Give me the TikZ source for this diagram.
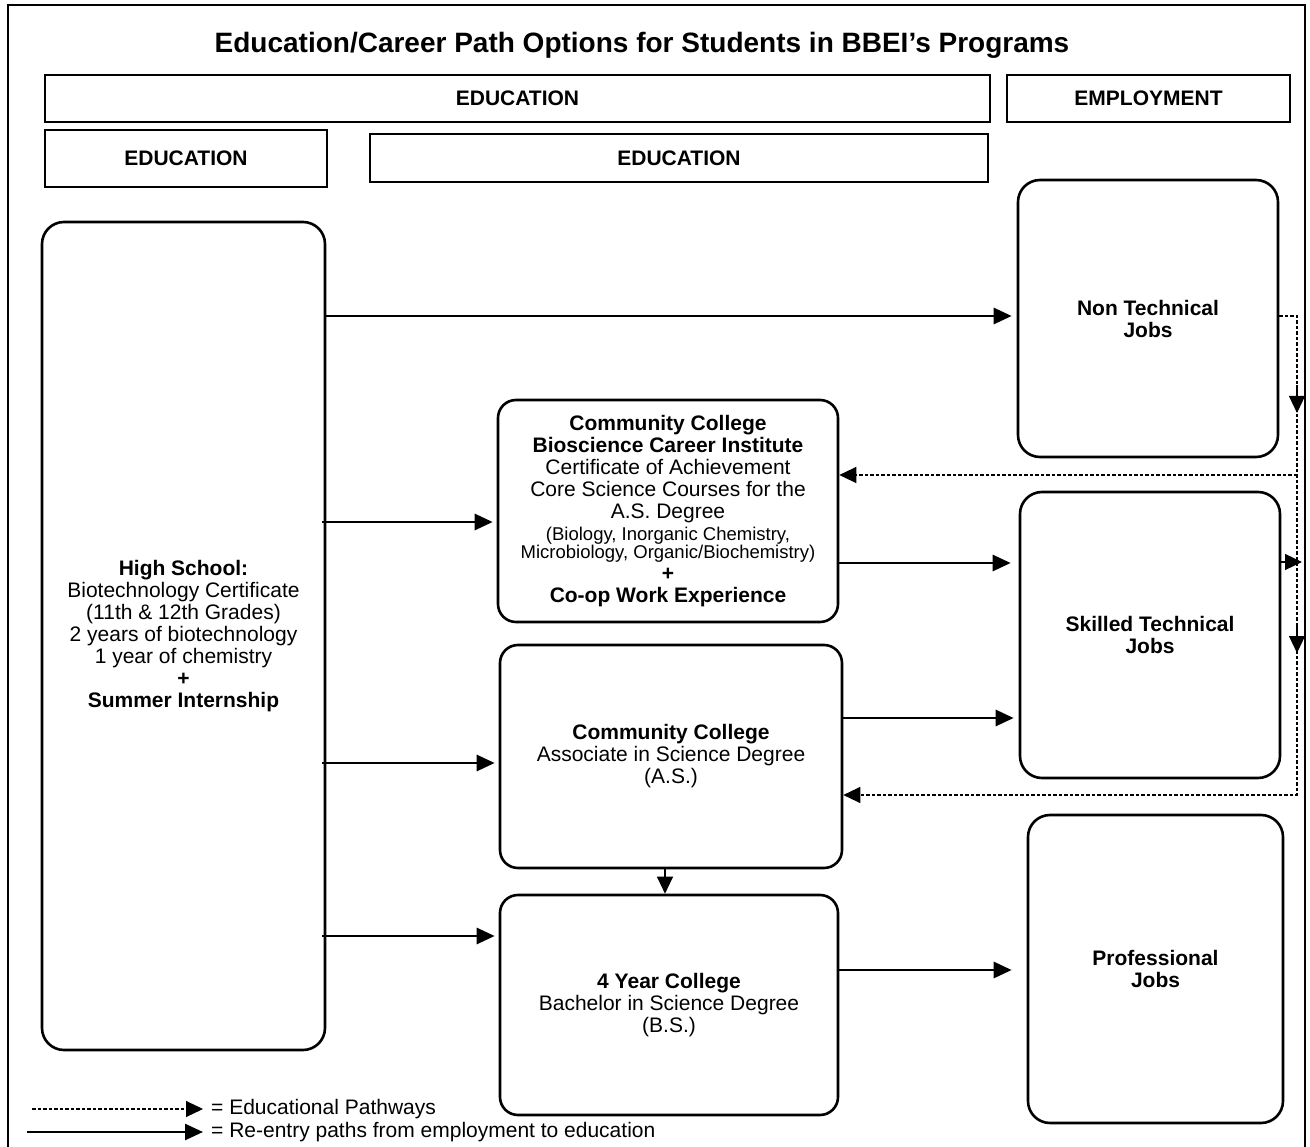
\documentclass[tikz,border=0pt]{standalone}
\usepackage{fontspec}
\setmainfont{Liberation Sans}
\usetikzlibrary{arrows.meta}

\newcommand\smalltxt{\fontsize{18.5}{18}\selectfont}

\begin{document}
\begin{tikzpicture}[x=1pt,y=-1pt,
  hdr/.style={draw, line width=1.3pt, inner sep=0pt,
    font=\bfseries\fontsize{21}{24}\selectfont},
  rbox/.style={draw, line width=2.6pt, rounded corners=22pt, align=center,
    inner sep=0pt, font=\fontsize{21}{22}\selectfont},
  jobbox/.style={rbox, font=\bfseries\fontsize{21}{22}\selectfont},
  solidarrow/.style={line width=2.8pt, -{Triangle[length=18pt,width=16pt]}},
  dasharrow/.style={line width=1.1pt, dash pattern=on 3.5pt off 2pt,
    -{Triangle[length=17pt,width=16pt]}},
  thinarrow/.style={line width=1.1pt, -{Triangle[length=17pt,width=16pt]}},
]
\useasboundingbox (0,0) rectangle (1310,1147);

% page frame
\draw[line width=2pt] (8,5) rectangle (1305,1165);

% title
\node[font=\bfseries\fontsize{28}{30}\selectfont] (title) at (642,45)
  {Education/Career Path Options for Students in BBEI’s Programs};

% column headers
\node[hdr, minimum width=945pt, minimum height=47pt] (eduall) at (517.5,98.5) {EDUCATION};
\node[hdr, minimum width=283pt, minimum height=47pt] (emp) at (1148.5,98.5) {EMPLOYMENT};
\node[hdr, minimum width=282pt, minimum height=57pt] (eduhs) at (186,158.5) {EDUCATION};
\node[hdr, minimum width=618pt, minimum height=48pt] (educc) at (679,158) {EDUCATION};

% education boxes
\node[rbox, minimum width=283pt, minimum height=828pt] (hs) at (183.5,636)
  {\textbf{High School:}\\ Biotechnology Certificate\\ (11th \& 12th Grades)\\
   2 years of biotechnology\\ 1 year of chemistry\\ \textbf{+}\\ \textbf{Summer Internship}};
\node[rbox, rounded corners=18pt, minimum width=340pt, minimum height=222pt] (bio) at (668,511)
  {\textbf{Community College}\\ \textbf{Bioscience Career Institute}\\
   Certificate of Achievement\\ Core Science Courses for the\\ A.S. Degree\\
   {\smalltxt (Biology, Inorganic Chemistry,}\\[-4pt]
   {\smalltxt Microbiology, Organic/Biochemistry)}\\
   \textbf{+}\\ \textbf{Co-op Work Experience}};
\node[rbox, rounded corners=18pt, minimum width=342pt, minimum height=223pt] (as) at (671,756.5)
  {\textbf{Community College}\\ Associate in Science Degree\\ (A.S.)};
\node[rbox, rounded corners=18pt, minimum width=338pt, minimum height=220pt] (four) at (669,1005)
  {\textbf{4 Year College}\\ Bachelor in Science Degree\\ (B.S.)};

% employment boxes
\node[jobbox, minimum width=260pt, minimum height=277pt] (nontech) at (1148,318.5)
  {Non Technical\\ Jobs};
\node[jobbox, minimum width=260pt, minimum height=286pt] (skilled) at (1150,635)
  {Skilled Technical\\ Jobs};
\node[jobbox, minimum width=255pt, minimum height=308pt] (prof) at (1155.5,969)
  {Professional\\ Jobs};

% heights of the connectors
\coordinate (y316) at (0,316);
\coordinate (y522) at (0,522);
\coordinate (y563) at (0,563);
\coordinate (y718) at (0,718);
\coordinate (y763) at (0,763);
\coordinate (y936) at (0,936);
\coordinate (y970) at (0,970);
\coordinate (y475) at (0,475);
\coordinate (y795) at (0,795);
\coordinate (y385) at (0,385);
\coordinate (y413) at (0,413);
\coordinate (y625) at (0,625);
\coordinate (y653) at (0,653);
\coordinate (rx) at (1297,0);
\coordinate (ax) at (665,0);
\coordinate (rtip) at (1302,562);

% educational pathways
\draw[solidarrow, shorten >=5pt] (hs.east |- y316) -- (nontech.west |- y316);
\draw[solidarrow, shorten >=4pt, shorten <=-4pt] (hs.east |- y522) -- (bio.west |- y522);
\draw[solidarrow, shorten >=4pt, shorten <=-4pt] (hs.east |- y763) -- (as.west |- y763);
\draw[solidarrow, shorten >=4pt, shorten <=-4pt] (hs.east |- y936) -- (four.west |- y936);
\draw[solidarrow, shorten >=8pt] (bio.east |- y563) -- (skilled.west |- y563);
\draw[solidarrow, shorten >=5pt] (as.east |- y718) -- (skilled.west |- y718);
\draw[solidarrow, shorten >=15pt] (four.east |- y970) -- (prof.west |- y970);
\draw[thinarrow] (as.south -| ax) -- (four.north -| ax);

% re-entry paths
\draw[dasharrow] (nontech.east |- y316) -- (rx |- y316) -- (rx |- y795) -- (as.east |- y795);
\draw[dasharrow] (rx |- y475) -- (bio.east |- y475);
\draw[dasharrow] (skilled.east |- rtip) -- (rtip);
\draw[thinarrow] (rx |- y385) -- (rx |- y413);
\draw[thinarrow] (rx |- y625) -- (rx |- y653);

% legend
\node[anchor=west, inner sep=0pt, font=\fontsize{21}{22}\selectfont] (lg1) at (211,1109) {= Educational Pathways};
\node[anchor=west, inner sep=0pt, font=\fontsize{21}{22}\selectfont] (lg2) at (211,1132) {= Re-entry paths from employment to education};
\coordinate (lg1s) at (32,1109);
\coordinate (lg2s) at (27,1132);
\draw[dasharrow, shorten >=8pt] (lg1s) -- (lg1.west);
\draw[solidarrow, line width=2.6pt, shorten >=8pt] (lg2s) -- (lg2.west);
\end{tikzpicture}
\end{document}
